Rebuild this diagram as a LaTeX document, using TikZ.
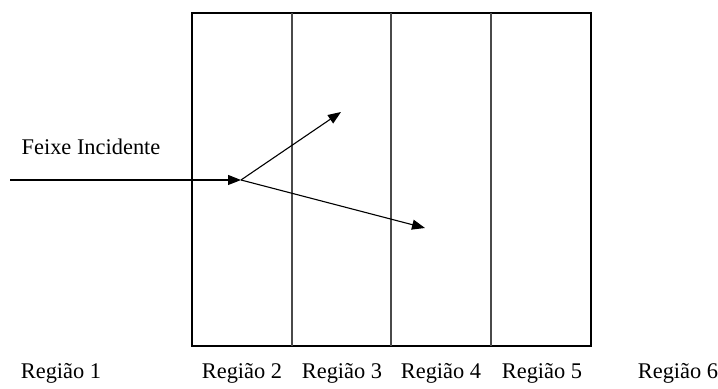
\documentclass[tikz,border=0pt]{standalone}
\usepackage{fontspec}
\setmainfont{Liberation Serif}
\usetikzlibrary{positioning,arrows.meta}
\definecolor{edge}{HTML}{000000}
\definecolor{wall}{HTML}{4A4A4A}
\definecolor{ray}{HTML}{000000}

\begin{document}
\begin{tikzpicture}[x=0.5pt,y=0.5pt,font=\fontsize{11.2}{13}\selectfont,
  beam/.style={-{Triangle[length=6.5pt,width=5pt]},draw=ray,line width=0.55pt},
  regiao/.style={inner sep=0pt,anchor=center}]
\useasboundingbox (0,0) rectangle (718,389);
\draw[edge,line width=0.55pt] (192,43) rectangle (591,376);
\draw[wall,line width=0.7pt] (292,43)--(292,376);\draw[wall,line width=0.7pt] (391,43)--(391,376);\draw[wall,line width=0.7pt] (491,43)--(491,376);
\coordinate (src) at (10,209);
\coordinate (hit) at (241,209);
\coordinate (up) at (341,277);
\coordinate (down) at (425,161);
\node[regiao] (feixe) at (91,242){Feixe Incidente};
\draw[beam] (src)--(hit);\draw[beam] (hit)--(up);\draw[beam] (hit)--(down);
\node[regiao] (r1) at (61,16){Região 1};
\node[regiao] (r2) at (242,16){Região 2};
\node[regiao] (r3) at (342,16){Região 3};
\node[regiao] (r4) at (441,16){Região 4};
\node[regiao] (r5) at (542,16){Região 5};
\node[regiao] (r6) at (678,16){Região 6};
\end{tikzpicture}
\end{document}
